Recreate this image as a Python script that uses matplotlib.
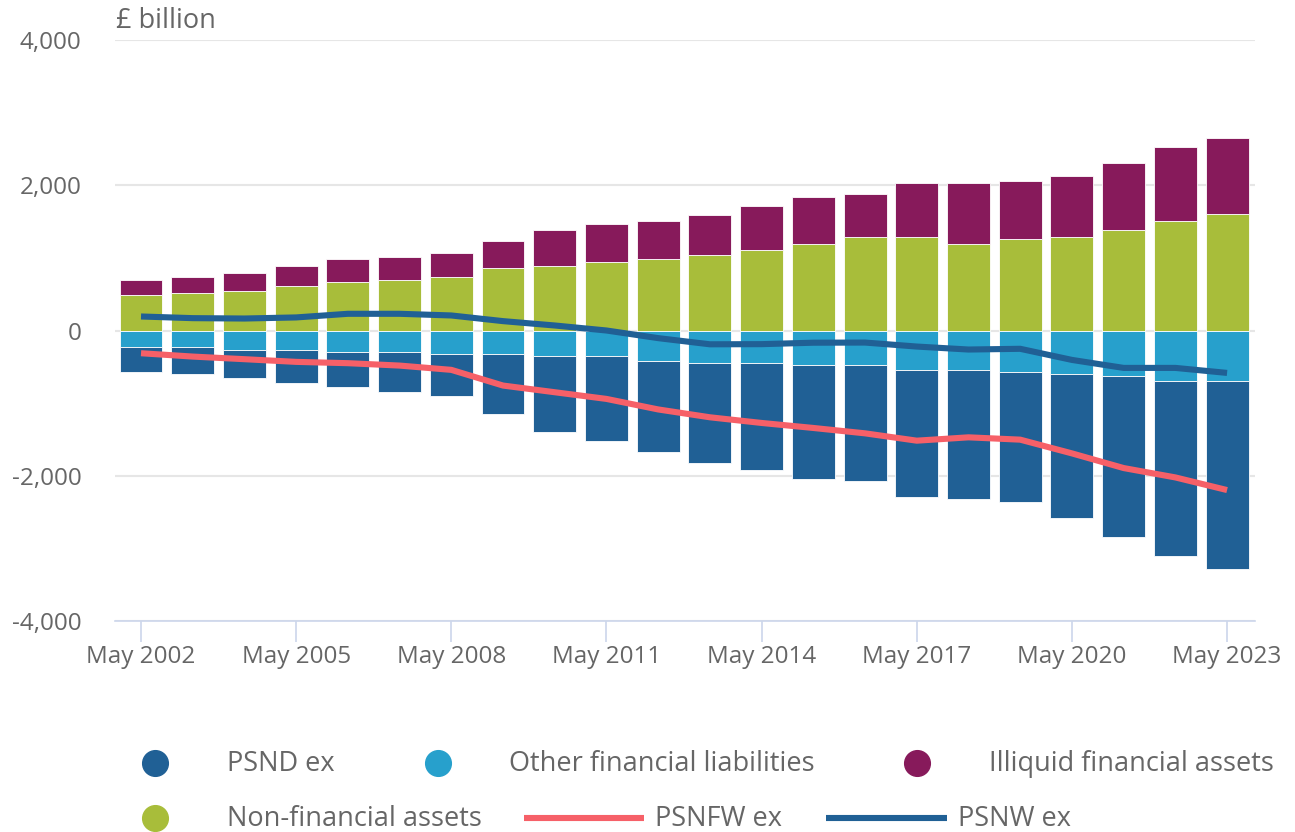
import matplotlib
matplotlib.use("Agg")
import matplotlib.pyplot as plt
from matplotlib.lines import Line2D
import numpy as np

years = list(range(2002, 2024))
tick_labels = ["May 2002", "May 2005", "May 2008", "May 2011", "May 2014",
               "May 2017", "May 2020", "May 2023"]

non_financial = [487, 515, 547, 611, 671, 699, 731, 859, 887, 947, 979,
                 1043, 1108, 1195, 1292, 1292, 1195, 1259, 1292, 1383, 1507, 1600]
illiquid = [212, 220, 248, 276, 308, 312, 340, 368, 496, 524, 528,
            552, 611, 648, 583, 739, 836, 800, 832, 924, 1021, 1048]
other_liab = [-225, -225, -262, -262, -290, -290, -326, -326, -349, -349, -414,
              -446, -446, -474, -474, -538, -538, -570, -598, -630, -694, -694]
psnd = [-340, -373, -395, -459, -491, -551, -580, -828, -1048, -1172, -1262,
        -1383, -1475, -1571, -1604, -1756, -1788, -1788, -1977, -2220, -2405, -2588]
psnfw = [-313, -359, -395, -432, -450, -483, -542, -758, -850, -942, -1087,
         -1195, -1273, -1342, -1416, -1517, -1471, -1503, -1692, -1894, -2023, -2197]
psnw = [193, 170, 165, 180, 230, 230, 207, 129, 69, 0, -105,
        -190, -188, -168, -166, -221, -262, -252, -405, -515, -515, -584]

C_PSND = "#206095"
C_OTHER = "#27a0cc"
C_ILLIQ = "#871a5b"
C_NONFIN = "#a8bd3a"
C_PSNFW = "#f66068"
C_PSNW = "#206095"
TXT = "#666666"

plt.rcParams['font.family'] = ['Open Sans', 'DejaVu Sans']

W, H = 1295, 832
fig = plt.figure(figsize=(W / 100, H / 100), dpi=100)
ax = fig.add_axes([115 / W, 1 - 621 / H, (1255 - 115) / W, (621 - 40) / H])

x = np.arange(len(years))
bw = 0.83
ekw = dict(edgecolor="white", linewidth=0.6, zorder=2)
ax.bar(x, non_financial, bw, color=C_NONFIN, **ekw)
ax.bar(x, illiquid, bw, bottom=non_financial, color=C_ILLIQ, **ekw)
ax.bar(x, other_liab, bw, color=C_OTHER, **ekw)
ax.bar(x, psnd, bw, bottom=other_liab, color=C_PSND, **ekw)

ax.plot(x, psnfw, color=C_PSNFW, lw=4.4, zorder=4, solid_capstyle="butt")
ax.plot(x, psnw, color=C_PSNW, lw=4.4, zorder=4, solid_capstyle="butt")

ax.set_ylim(-4000, 4000)
ax.set_xlim(-0.503, 21.54)
ax.set_yticks([-4000, -2000, 0, 2000, 4000])
ax.set_yticklabels(["-4,000", "-2,000", "0", "2,000", "4,000"])
ax.set_xticks(x[::3])
ax.set_xticklabels(tick_labels)

ax.grid(axis="y", color="#e6e6e6", lw=1.5, zorder=0)
ax.set_axisbelow(True)
for s in ["top", "right", "left"]:
    ax.spines[s].set_visible(False)
ax.spines["bottom"].set_color("#ccd6eb")
ax.spines["bottom"].set_linewidth(1.2)
ax.spines["bottom"].set_zorder(1)

ax.tick_params(axis="y", length=0, pad=24, labelsize=17.5, labelcolor=TXT)
ax.tick_params(axis="x", length=15, width=1.2, color="#ccd6eb", pad=2,
               labelsize=17.5, labelcolor=TXT)

fs = 19.5
fig.text(116 / W, 1 - 21 / H, "£ billion", fontsize=fs, color=TXT,
         ha="left", va="center")

# Legend (manual flow layout)
def fx(px):
    return px / W

def fy(py):
    return 1 - py / H

row1, row2 = 763, 818
for cx, tx, col, lab, ry in [(155, 227, C_PSND, "PSND ex", row1),
                             (438, 509, C_OTHER, "Other financial liabilities", row1),
                             (917, 989, C_ILLIQ, "Illiquid financial assets", row1),
                             (155, 227, C_NONFIN, "Non-financial assets", row2)]:
    fig.add_artist(Line2D([fx(cx)], [fy(ry)], marker="o", markersize=18.5,
                          color=col, linestyle="none"))
    fig.text(fx(tx), fy(ry + 1), lab, fontsize=fs, color=TXT, ha="left", va="center")

for x0, x1, tx, col, lab in [(524, 644, 655, C_PSNFW, "PSNFW ex"),
                             (826, 947, 958, C_PSNW, "PSNW ex")]:
    fig.add_artist(Line2D([fx(x0), fx(x1)], [fy(row2), fy(row2)], color=col,
                          lw=4.4, solid_capstyle="butt"))
    fig.text(fx(tx), fy(row2 + 1), lab, fontsize=fs, color=TXT, ha="left", va="center")

fig.savefig("out.png", dpi=100)
